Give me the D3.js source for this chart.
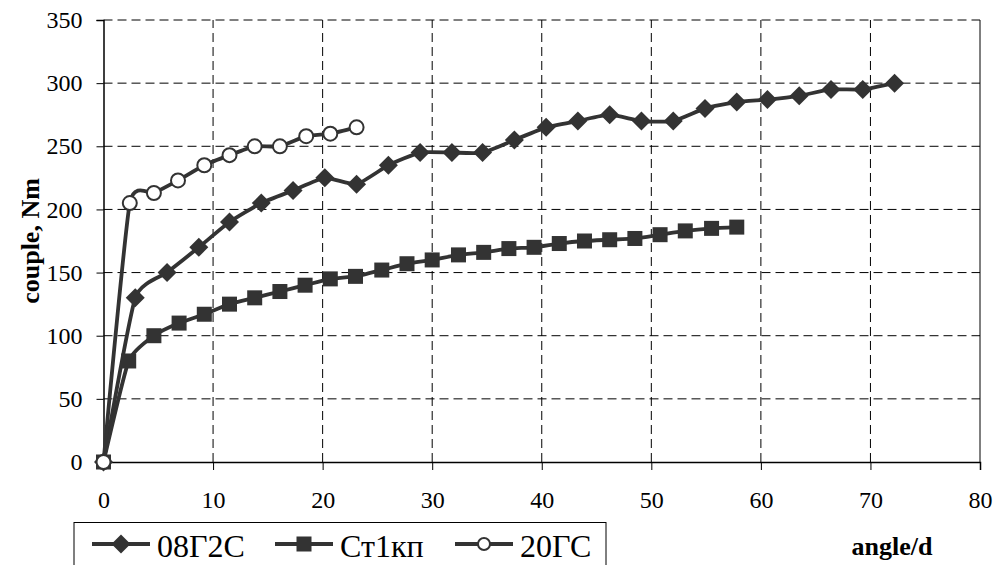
<!DOCTYPE html>
<html>
<head>
<meta charset="utf-8">
<script src="https://cdn.jsdelivr.net/npm/d3@7"></script>
<style>
  body { margin: 0; background: #fff; }
  svg text { font-family: 'Liberation Serif', 'Times New Roman', serif !important; }
</style>
</head>
<body>
<div id="viz"></div>
<script>
// data
var seriesNames = ["08Г2С", "Ст1кп", "20ГС"];

var x08 = [0, 2.9, 5.8, 8.7, 11.5, 14.4, 17.3, 20.2, 23.1, 26.0, 28.9, 31.8, 34.6,
  37.5, 40.4, 43.3, 46.2, 49.1, 52.0, 54.9, 57.8, 60.6, 63.5, 66.4, 69.3, 72.2];
var y08 = [0, 130, 150, 170, 190, 205, 215, 225, 220, 235, 245, 245, 245,
  255, 265, 270, 275, 270, 270, 280, 285, 287, 290, 295, 295, 300];

var xSt = [0, 2.3, 4.6, 6.9, 9.2, 11.5, 13.8, 16.1, 18.4, 20.7, 23.0, 25.4, 27.7,
  30.0, 32.4, 34.7, 37.0, 39.3, 41.6, 43.9, 46.2, 48.5, 50.8, 53.1, 55.5, 57.8];
var ySt = [0, 80, 100, 110, 117, 125, 130, 135, 140, 145, 147, 152, 157,
  160, 164, 166, 169, 170, 173, 175, 176, 177, 180, 183, 185, 186];

var x20 = [0, 2.4, 4.6, 6.8, 9.2, 11.5, 13.8, 16.1, 18.5, 20.7, 23.1];
var y20 = [0, 205, 213, 223, 235, 243, 250, 250, 258, 260, 265];

var xTicks = [0, 10, 20, 30, 40, 50, 60, 70, 80];
var yTicks = [0, 50, 100, 150, 200, 250, 300, 350];

var width = 995, height = 565;
var margin = {top: 20, right: 15, bottom: 103, left: 103.5};

var svg = d3.select("#viz")
  .append("svg")
  .attr("width", width)
  .attr("height", height);

var x = d3.scaleLinear().domain([0, 80]).range([margin.left, width - margin.right]);
var y = d3.scaleLinear().domain([0, 350]).range([height - margin.bottom, margin.top]);

var ink = "#333333";

// grid
svg.append("g")
  .selectAll("line")
  .data(yTicks.slice(1))
  .enter()
  .append("line")
  .attr("x1", x(0)).attr("x2", x(80))
  .attr("y1", function(d) { return y(d); })
  .attr("y2", function(d) { return y(d); })
  .attr("stroke", "#000")
  .attr("stroke-width", 1)
  .attr("stroke-dasharray", "9,5");

svg.append("g")
  .selectAll("line")
  .data(xTicks.slice(1, -1))
  .enter()
  .append("line")
  .attr("y1", y(0)).attr("y2", y(350))
  .attr("x1", function(d) { return x(d); })
  .attr("x2", function(d) { return x(d); })
  .attr("stroke", "#000")
  .attr("stroke-width", 1)
  .attr("stroke-dasharray", "9,5");

// right border of plot area
svg.append("line")
  .attr("x1", x(80)).attr("x2", x(80))
  .attr("y1", y(0)).attr("y2", y(350))
  .attr("stroke", "#000");

// axes
var xAxis = svg.append("g")
  .attr("transform", "translate(0," + y(0) + ")")
  .call(d3.axisBottom(x).tickValues(xTicks).tickSize(8).tickFormat(d3.format("d")));
xAxis.selectAll(".tick text").attr("y", 46).attr("dy", null);

var yAxis = svg.append("g")
  .attr("transform", "translate(" + x(0) + ",0)")
  .call(d3.axisLeft(y).tickValues(yTicks).tickSize(7).tickPadding(14).tickFormat(d3.format("d")));

[xAxis, yAxis].forEach(function(a) {
  a.attr("font-size", 24);
  a.select(".domain").attr("stroke", "#000").attr("stroke-width", 1.5);
  a.selectAll(".tick line").attr("stroke", "#000");
  a.selectAll(".tick text").attr("fill", "#000");
});

// axis titles
svg.append("text")
  .attr("transform", "translate(30," + ((y(0) + y(350)) / 2) + ") rotate(-90)")
  .attr("text-anchor", "middle")
  .attr("dy", "0.35em")
  .attr("font-weight", "bold")
  .attr("font-size", 26)
  .text("couple, Nm");

svg.append("text")
  .attr("x", 892)
  .attr("y", 555)
  .attr("text-anchor", "middle")
  .attr("font-weight", "bold")
  .attr("font-size", 26)
  .text("angle/d");

// lines
var line = d3.line()
  .x(function(d) { return x(d[0]); })
  .y(function(d) { return y(d[1]); })
  .curve(d3.curveCardinal.tension(0.5));

var series = [
  {name: seriesNames[0], pts: d3.zip(x08, y08), marker: "diamond"},
  {name: seriesNames[1], pts: d3.zip(xSt, ySt), marker: "square"},
  {name: seriesNames[2], pts: d3.zip(x20, y20), marker: "circle"}
];

function drawMarker(sel, kind, r) {
  if (kind === "diamond") {
    sel.append("path")
      .attr("d", "M0,-9.5L9.5,0L0,9.5L-9.5,0Z")
      .attr("fill", ink);
  } else if (kind === "square") {
    sel.append("rect")
      .attr("x", -7.5).attr("y", -7.5)
      .attr("width", 15).attr("height", 15)
      .attr("fill", ink);
  } else {
    sel.append("circle")
      .attr("r", r || 7)
      .attr("fill", "#fff")
      .attr("stroke", ink)
      .attr("stroke-width", 2);
  }
}

series.forEach(function(s) {
  svg.append("path")
    .datum(s.pts)
    .attr("d", line)
    .attr("fill", "none")
    .attr("stroke", ink)
    .attr("stroke-width", 3.8);

  svg.append("g")
    .selectAll("g")
    .data(s.pts)
    .enter()
    .append("g")
    .attr("transform", function(d) { return "translate(" + x(d[0]) + "," + y(d[1]) + ")"; })
    .each(function() { drawMarker(d3.select(this), s.marker); });
});

// legend
var legend = svg.append("g");
legend.append("rect")
  .attr("x", 74).attr("y", 522.5)
  .attr("width", 532).attr("height", 60)
  .attr("fill", "#fff")
  .attr("stroke", "#000");

var legendX = [92, 275, 455];
series.forEach(function(s, i) {
  var g = legend.append("g").attr("transform", "translate(" + legendX[i] + ",544)");
  g.append("line")
    .attr("x1", 0).attr("x2", 58)
    .attr("stroke", ink)
    .attr("stroke-width", 4);
  var m = g.append("g").attr("transform", "translate(29,0)");
  drawMarker(m, s.marker, 6);
  g.append("text")
    .attr("x", 65)
    .attr("y", 12.5)
    .attr("font-size", 32)
    .text(s.name);
});
</script>
</body>
</html>
